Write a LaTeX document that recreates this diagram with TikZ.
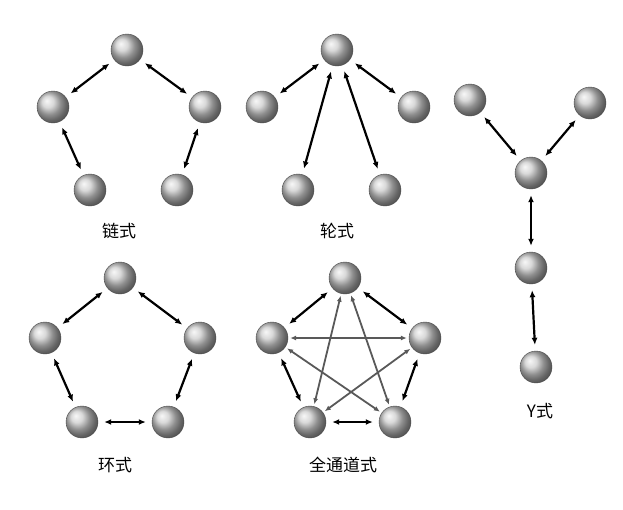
\documentclass[tikz,border=0pt]{standalone}
\usepackage{fontspec}
\newfontfamily\cjk{Noto Sans CJK SC}
\usetikzlibrary{arrows.meta}
\begin{document}
\begin{tikzpicture}[x=1pt,y=-1pt,
  ball/.style={circle,minimum size=32pt,inner sep=0pt,ball color=gray!40,draw=gray!60!black,line width=0.4pt},
  link/.style={{Latex[length=7pt,width=6pt]}-{Latex[length=7pt,width=6pt]},line width=2.2pt,shorten <=6pt,shorten >=6pt},
  thin/.style={{Latex[length=6pt,width=5pt]}-{Latex[length=6pt,width=5pt]},line width=1.8pt,draw=black!65,shorten <=2pt,shorten >=2pt},
  lab/.style={font=\cjk\fontsize{17}{20}\selectfont}]
\useasboundingbox (0,0) rectangle (623,509);
% chain
\node[ball] (c1) at (127,50) {};
\node[ball] (c2) at (53,107) {};
\node[ball] (c3) at (205,107) {};
\node[ball] (c4) at (90,190) {};
\node[ball] (c5) at (177,190) {};
\draw[link] (c1)--(c2); \draw[link] (c1)--(c3);
\draw[link] (c2)--(c4); \draw[link] (c3)--(c5);
\node[lab] (lc) at (119,231) {链式};
% wheel
\node[ball] (w1) at (337,50) {};
\node[ball] (w2) at (262,107) {};
\node[ball] (w3) at (414,107) {};
\node[ball] (w4) at (298,190) {};
\node[ball] (w5) at (385,190) {};
\draw[link] (w1)--(w2); \draw[link] (w1)--(w3);
\draw[link] (w1)--(w4); \draw[link] (w1)--(w5);
\node[lab] (lw) at (337,231) {轮式};
% Y
\node[ball] (y1) at (470,100) {};
\node[ball] (y2) at (590,103) {};
\node[ball] (y3) at (531,173) {};
\node[ball] (y4) at (531,268) {};
\node[ball] (y5) at (536,367) {};
\draw[link] (y1)--(y3); \draw[link] (y2)--(y3);
\draw[link] (y3)--(y4); \draw[link] (y4)--(y5);
\node[lab] (ly) at (540,411) {Y式};
% ring
\node[ball] (r1) at (120,278) {};
\node[ball] (r2) at (45,338) {};
\node[ball] (r3) at (200,338) {};
\node[ball] (r4) at (82,422) {};
\node[ball] (r5) at (168,422) {};
\draw[link] (r1)--(r2); \draw[link] (r1)--(r3);
\draw[link] (r2)--(r4); \draw[link] (r3)--(r5); \draw[link] (r4)--(r5);
\node[lab] (lr) at (115,465) {环式};
% all channel
\node[ball] (a1) at (345,278) {};
\node[ball] (a2) at (272,338) {};
\node[ball] (a3) at (425,338) {};
\node[ball] (a4) at (310,422) {};
\node[ball] (a5) at (395,422) {};
\draw[link] (a1)--(a2); \draw[link] (a1)--(a3);
\draw[link] (a2)--(a4); \draw[link] (a3)--(a5); \draw[link] (a4)--(a5);
\draw[thin] (a1)--(a4); \draw[thin] (a1)--(a5);
\draw[thin] (a2)--(a3); \draw[thin] (a2)--(a5); \draw[thin] (a3)--(a4);
\node[lab] (la) at (343,465) {全通道式};
\end{tikzpicture}
\end{document}
